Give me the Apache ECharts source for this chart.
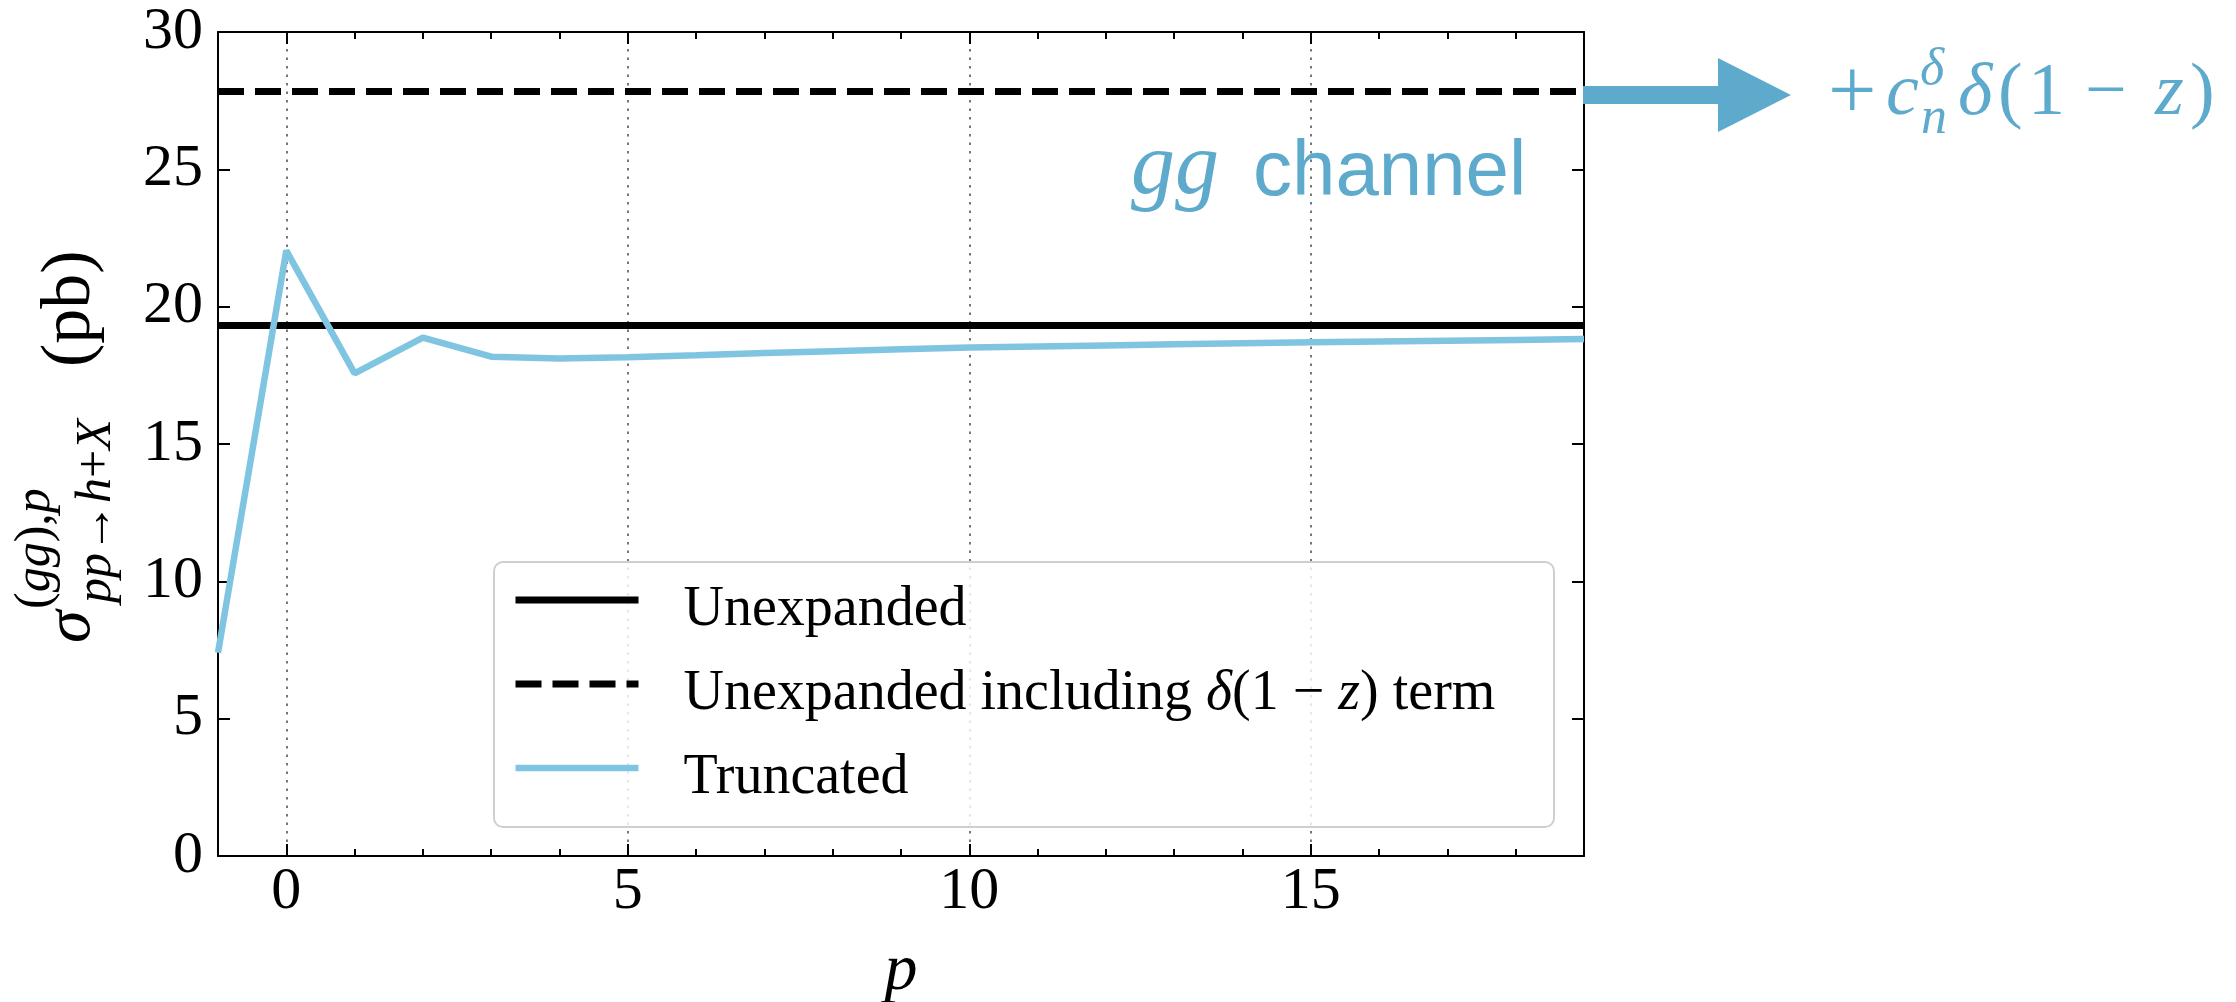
<!DOCTYPE html>
<html>
<head>
<meta charset="utf-8">
<title>gg channel cross section vs truncation order</title>
<script src="https://cdn.jsdelivr.net/npm/echarts@6/dist/echarts.min.js"></script>
<style>
  html, body { margin: 0; padding: 0; background: #fff; }
  #chart { width: 2236px; height: 1002px; }
</style>
</head>
<body>
<div id="chart"></div>
<script>
// Truncation order p and the truncated cross section (pb)
const pValues = [-1, 0, 1, 2, 3, 4, 5, 6, 7, 8, 9, 10, 11, 12, 13, 14, 15, 16, 17, 18, 19];
const truncated = [7.40, 22.04, 17.57, 18.87, 18.18, 18.11, 18.16, 18.23, 18.31, 18.38, 18.45,
                   18.51, 18.55, 18.59, 18.63, 18.67, 18.70, 18.73, 18.76, 18.79, 18.82];
// Reference (unexpanded) results, constant in p
const unexpanded = [19.31];
const unexpandedWithDelta = [27.83];
// Axis ranges and tick values
const xRange = [-1, 19];
const yRange = [0, 30];
const xMajorTicks = [0, 5, 10, 15];
const seriesNames = ['Unexpanded', 'Unexpanded including δ(1 − z) term', 'Truncated'];

const SERIF = '"Liberation Serif", "Times New Roman", serif';
const SANS = '"Liberation Sans", Arial, sans-serif';
const ACCENT = '#5eaacc';
const LINE_BLUE = '#7fc5e1';

const chart = echarts.init(document.getElementById('chart'), null, { renderer: 'canvas' });

const flatLine = v => [[xRange[0], v], [xRange[1], v]];

// Text helper: places a label whose alphabetic baseline sits at `base`
function mathText(x, base, str, size, italic, color, family) {
  return {
    type: 'text',
    x: x,
    y: base - 0.34 * size,
    style: {
      text: str,
      font: (italic ? 'italic ' : '') + size + 'px ' + (family || SERIF),
      fill: color,
      align: 'left', verticalAlign: 'middle',
      textAlign: 'left', textVerticalAlign: 'middle'
    }
  };
}

function richText(x, base, str, size, color) {
  return {
    type: 'text',
    x: x,
    y: base - 0.34 * size,
    style: {
      text: str,
      fill: color,
      align: 'left', verticalAlign: 'middle',
      textAlign: 'left', textVerticalAlign: 'middle',
      rich: {
        r: { fontFamily: SERIF, fontSize: size, fill: color },
        i: { fontFamily: SERIF, fontSize: size, fontStyle: 'italic', fill: color }
      }
    }
  };
}

const baseAxis = {
  type: 'value',
  min: xRange[0],
  max: xRange[1],
  gridIndex: 0
};

const option = {
  backgroundColor: '#fff',
  animation: false,
  grid: { left: 218, top: 32, width: 1366, height: 824, containLabel: false, outerBoundsMode: 'none' },
  xAxis: [
    Object.assign({}, baseAxis, {
      position: 'bottom',
      name: 'p',
      nameLocation: 'middle',
      nameGap: 83,
      nameTextStyle: { fontFamily: SERIF, fontStyle: 'italic', fontSize: 66, color: '#000' },
      axisLine: { show: true, onZero: false, lineStyle: { color: '#000', width: 2 } },
      axisTick: { show: true, inside: true, length: 12, customValues: xMajorTicks,
                  lineStyle: { color: '#000', width: 2 } },
      axisLabel: { show: true, customValues: xMajorTicks, margin: 6,
                   fontFamily: SERIF, fontSize: 60, color: '#000' },
      splitLine: { show: true, lineStyle: { color: '#777', width: 2, type: [2.5, 6] } }
    }),
    Object.assign({}, baseAxis, {
      position: 'bottom',
      interval: 1,
      axisLine: { show: false, onZero: false },
      axisTick: { show: true, inside: true, length: 7, lineStyle: { color: '#000', width: 2 } },
      axisLabel: { show: false },
      splitLine: { show: false }
    }),
    Object.assign({}, baseAxis, {
      position: 'top',
      interval: 1,
      axisLine: { show: true, onZero: false, lineStyle: { color: '#000', width: 2 } },
      axisTick: { show: true, inside: true, length: 7, lineStyle: { color: '#000', width: 2 } },
      axisLabel: { show: false },
      splitLine: { show: false }
    }),
    Object.assign({}, baseAxis, {
      position: 'top',
      axisLine: { show: false, onZero: false },
      axisTick: { show: true, inside: true, length: 12, customValues: xMajorTicks,
                  lineStyle: { color: '#000', width: 2 } },
      axisLabel: { show: false, customValues: xMajorTicks },
      splitLine: { show: false }
    })
  ],
  yAxis: [
    {
      type: 'value', position: 'left', min: yRange[0], max: yRange[1], interval: 5,
      axisLine: { show: true, onZero: false, lineStyle: { color: '#000', width: 2 } },
      axisTick: { show: true, inside: true, length: 12, lineStyle: { color: '#000', width: 2 } },
      axisLabel: { show: true, margin: 15, fontFamily: SERIF, fontSize: 60, color: '#000' },
      splitLine: { show: false }
    },
    {
      type: 'value', position: 'right', min: yRange[0], max: yRange[1], interval: 5,
      axisLine: { show: true, onZero: false, lineStyle: { color: '#000', width: 2 } },
      axisTick: { show: true, inside: true, length: 12, lineStyle: { color: '#000', width: 2 } },
      axisLabel: { show: false },
      splitLine: { show: false }
    }
  ],
  legend: {
    orient: 'vertical',
    left: 512,
    top: 562,
    padding: 0,
    itemWidth: 123,
    itemHeight: 2,
    itemGap: 8,
    z: 4,
    selectedMode: false,
    data: seriesNames,
    lineStyle: { width: 'inherit' },
    itemStyle: { opacity: 0, borderWidth: 0 },
    formatter: function (name) {
      if (name === seriesNames[1]) {
        return '{r|Unexpanded including }{i|δ}{r|(1 − }{i|z}{r|) term}';
      }
      return '{r|' + name + '}';
    },
    textStyle: {
      fontFamily: SERIF, fontSize: 56, color: '#000', lineHeight: 56,
      padding: [20, 0, 0, 40],
      rich: {
        r: { fontFamily: SERIF, fontSize: 56, lineHeight: 56, color: '#000' },
        i: { fontFamily: SERIF, fontSize: 56, lineHeight: 56, fontStyle: 'italic', color: '#000' }
      }
    }
  },
  series: [
    {
      name: seriesNames[0], type: 'line', xAxisIndex: 0, yAxisIndex: 0,
      data: flatLine(unexpanded[0]),
      symbol: 'none', silent: true, z: 2,
      lineStyle: { color: '#000', width: 7, type: 'solid' },
      itemStyle: { color: '#000' }
    },
    {
      name: seriesNames[1], type: 'line', xAxisIndex: 0, yAxisIndex: 0,
      data: flatLine(unexpandedWithDelta[0]),
      symbol: 'none', silent: true, z: 2,
      lineStyle: { color: '#000', width: 7, type: [26, 11] },
      itemStyle: { color: '#000' }
    },
    {
      name: seriesNames[2], type: 'line', xAxisIndex: 0, yAxisIndex: 0,
      data: pValues.map((p, i) => [p, truncated[i]]),
      symbol: 'none', silent: true, z: 2,
      lineStyle: { color: LINE_BLUE, width: 6.5 },
      itemStyle: { color: LINE_BLUE }
    }
  ],
  graphic: [
    // Legend frame (semi-transparent so grid lines show through)
    {
      type: 'rect', z: 3,
      shape: { x: 494, y: 562, width: 1060, height: 265, r: 9 },
      style: { fill: 'rgba(255,255,255,0.82)', stroke: '#cfcfcf', lineWidth: 2 }
    },
    // Rotated y-axis title: sigma^{(gg),p}_{pp->h+X} (pb)
    {
      type: 'group',
      x: 94, y: 645,
      rotation: Math.PI / 2,
      children: [
        mathText(2, 0, 'σ', 66, true, '#000'),
        richText(36, -41, '{r|(}{i|gg}{r|),}{i|p}', 50, '#000'),
        richText(42, 20, '{i|pp}{r|→}{i|h}{r|+}{i|X}', 50, '#000'),
        mathText(278, 0, '(pb)', 70, false, '#000')
      ]
    },
    // Channel annotation
    mathText(1131, 200, 'gg', 88, true, ACCENT),
    mathText(1253, 200, 'channel', 78, false, ACCENT, SANS),
    // Arrow pointing from the delta-term line to its label
    {
      type: 'polygon', z: 5,
      shape: { points: [[1583, 86], [1718, 86], [1718, 58], [1791, 95],
                        [1718, 132], [1718, 104], [1583, 104]] },
      style: { fill: ACCENT }
    },
    // +c_n^delta delta(1 - z)
    mathText(1828, 126, '+', 86, false, ACCENT),
    mathText(1886, 120, 'c', 74, true, ACCENT),
    mathText(1920, 88, 'δ', 52, true, ACCENT),
    mathText(1921, 137, 'n', 52, true, ACCENT),
    mathText(1958, 120, 'δ', 74, true, ACCENT),
    mathText(1998, 120, '(', 74, false, ACCENT),
    mathText(2028, 120, '1', 74, false, ACCENT),
    mathText(2085, 120, '−', 74, false, ACCENT),
    mathText(2155, 120, 'z', 74, true, ACCENT),
    mathText(2190, 120, ')', 74, false, ACCENT)
  ]
};

chart.setOption(option);
</script>
</body>
</html>
